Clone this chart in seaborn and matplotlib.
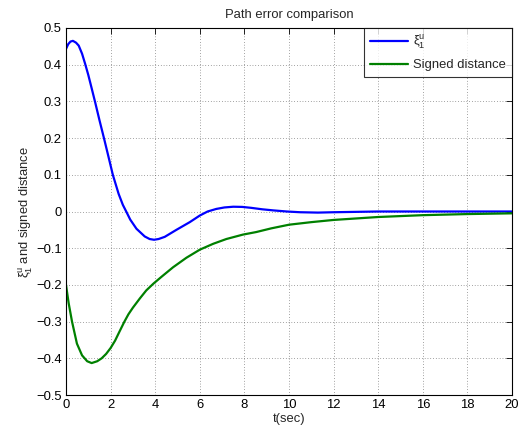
import matplotlib
matplotlib.use("Agg")
import matplotlib.pyplot as plt
import seaborn as sns
import pandas as pd

# ---- data ----
t_xi = [0, 0.1, 0.2, 0.31, 0.45, 0.57, 0.72, 0.86, 1.0, 1.15, 1.31, 1.5, 1.71, 1.91, 2.1,
        2.36, 2.55, 2.7, 2.88, 3.16, 3.53, 3.75, 3.95, 4.15, 4.43, 4.95, 5.55, 6.0,
        6.35, 6.74, 7.1, 7.5, 7.9, 8.3, 8.8, 9.3, 9.9, 10.5, 11.3, 12.0, 13.0, 14.0, 20.0]
xi_1u = [0.443, 0.456, 0.463, 0.465, 0.460, 0.452, 0.43, 0.402, 0.372, 0.336, 0.297, 0.249,
         0.198, 0.148, 0.10, 0.048, 0.018, 0.0, -0.022, -0.047, -0.068, -0.075, -0.077,
         -0.075, -0.069, -0.050, -0.029, -0.011, 0.0, 0.007, 0.011, 0.013, 0.0125, 0.010,
         0.006, 0.003, 0.0, -0.002, -0.003, -0.002, -0.001, 0.0, 0.0]

t_sd = [0, 0.12, 0.27, 0.49, 0.72, 0.95, 1.15, 1.4, 1.6, 1.8, 2.0, 2.2, 2.4, 2.62, 2.8,
        3.0, 3.31, 3.6, 3.93, 4.3, 4.8, 5.4, 6.0, 6.6, 7.19, 7.93, 8.53, 9.2, 10.0,
        11.0, 12.0, 13.0, 14.0, 16.0, 18.0, 20.0]
signed_distance = [-0.20, -0.25, -0.30, -0.36, -0.392, -0.408, -0.413, -0.408, -0.400,
                   -0.388, -0.372, -0.352, -0.327, -0.30, -0.28, -0.262, -0.237, -0.215,
                   -0.196, -0.177, -0.152, -0.126, -0.104, -0.088, -0.075, -0.063, -0.056,
                   -0.046, -0.036, -0.029, -0.023, -0.019, -0.015, -0.010, -0.007, -0.005]

labels = [r'$\mathrm{\xi}_1^\mathrm{u}$', 'Signed distance']
x_ticks = [0, 2, 4, 6, 8, 10, 12, 14, 16, 18, 20]
y_ticks = [-0.5, -0.4, -0.3, -0.2, -0.1, 0, 0.1, 0.2, 0.3, 0.4, 0.5]
y_tick_labels = ['\u22120.5', '\u22120.4', '\u22120.3', '\u22120.2', '\u22120.1', '0',
                 '0.1', '0.2', '0.3', '0.4', '0.5']

df = pd.concat([
    pd.DataFrame({'t': t_xi, 'v': xi_1u, 'series': labels[0]}),
    pd.DataFrame({'t': t_sd, 'v': signed_distance, 'series': labels[1]}),
], ignore_index=True)

sns.set_style("white")
plt.rcParams['font.family'] = ['Liberation Sans', 'DejaVu Sans']
plt.rcParams['mathtext.fontset'] = 'custom'
plt.rcParams['mathtext.rm'] = 'Liberation Sans'
plt.rcParams['mathtext.it'] = 'Liberation Sans:italic'
plt.rcParams['mathtext.bf'] = 'Liberation Sans:bold'

FS = 9.4
fig = plt.figure(figsize=(5.18, 4.34), dpi=100)
ax = fig.add_axes([66/518, 1-395/434, (512-66)/518, (395-28)/434])

sns.lineplot(data=df, x='t', y='v', hue='series', hue_order=labels,
             palette=['#0000ff', '#008000'], linewidth=1.6, ax=ax,
             sort=False, estimator=None)

ax.set_xlim(0, 20)
ax.set_ylim(-0.5, 0.5)
ax.set_xticks(x_ticks)
ax.set_xticklabels([str(v) for v in x_ticks])
ax.set_yticks(y_ticks)
ax.set_yticklabels(y_tick_labels)
ax.tick_params(direction='in', length=4, width=0.6, top=True, right=True,
               labelsize=FS, colors='black', pad=3)
ax.grid(True, linestyle=(0, (1, 3)), color='black', linewidth=0.5, alpha=0.7)
for s in ax.spines.values():
    s.set_color('black')
    s.set_linewidth(0.8)

ax.set_title('Path error comparison', fontsize=FS, pad=7)
ax.set_xlabel('t(sec)', fontsize=FS, labelpad=1)
ax.set_ylabel(r'$\mathrm{\xi}_1^\mathrm{u}$ and signed distance', fontsize=FS, labelpad=1)

leg = ax.legend(loc='upper right', fontsize=FS, frameon=True, fancybox=False,
                borderaxespad=0, handlelength=2.9, handletextpad=0.4,
                borderpad=0.45, labelspacing=0.6)
leg.get_frame().set_edgecolor('black')
leg.get_frame().set_linewidth(0.8)
leg.set_title(None)

fig.savefig('out.png', dpi=100)
